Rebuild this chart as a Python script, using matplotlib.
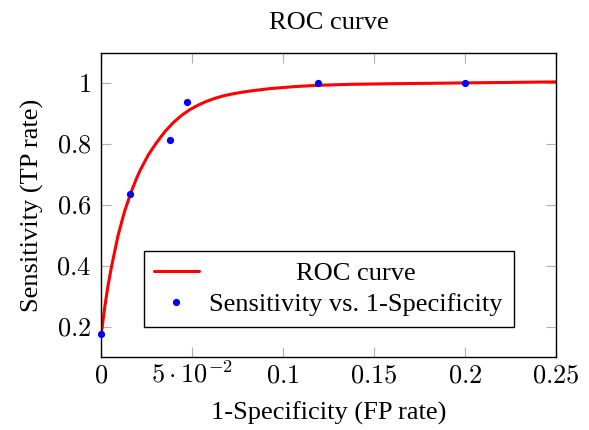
import matplotlib
matplotlib.use("Agg")
import matplotlib.pyplot as plt

plt.rcParams["font.family"] = ["Liberation Serif", "DejaVu Serif"]
plt.rcParams["mathtext.fontset"] = "cm"

# fitted ROC curve
curve_fpr = [0.0, 0.002, 0.0038, 0.0057, 0.0093, 0.0112, 0.013, 0.0167,
             0.0194, 0.0214, 0.026, 0.0306, 0.0352, 0.0397, 0.0443, 0.0489,
             0.0535, 0.058, 0.0626, 0.0672, 0.0718, 0.0764, 0.0819, 0.0929,
             0.1075, 0.12, 0.137, 0.16, 0.19, 0.22, 0.25]
curve_tpr = [0.17, 0.262, 0.333, 0.395, 0.498, 0.541, 0.58, 0.645,
             0.686, 0.713, 0.765, 0.806, 0.842, 0.871, 0.895, 0.914,
             0.929, 0.941, 0.951, 0.959, 0.965, 0.97, 0.975, 0.983,
             0.99, 0.994, 0.997, 0.999, 1.001, 1.003, 1.005]

# measured points
point_fpr = [0.0, 0.016, 0.038, 0.047, 0.119, 0.2]
point_tpr = [0.175, 0.636, 0.813, 0.938, 1.0, 1.0]

x_ticks = [0, 0.05, 0.1, 0.15, 0.2, 0.25]
x_tick_labels = ["$0$", r"$5\cdot10^{-2}$", "$0.1$", "$0.15$", "$0.2$", "$0.25$"]
y_ticks = [0.2, 0.4, 0.6, 0.8, 1.0]
y_tick_labels = ["$0.2$", "$0.4$", "$0.6$", "$0.8$", "$1$"]

RED = "#FF0000"
BLUE = "#0000FF"
FS = 19

fig = plt.figure(figsize=(5.89, 4.30), dpi=100)
ax = fig.add_axes([0.1715, 0.1698, 0.7725, 0.7069])

ax.plot(curve_fpr, curve_tpr, color=RED, linewidth=2.2,
        solid_joinstyle="round", solid_capstyle="round",
        label="ROC curve", zorder=2)
ax.plot(point_fpr, point_tpr, linestyle="none", marker="o", markersize=4.2,
        color=BLUE, label="Sensitivity vs. 1-Specificity", zorder=3,
        clip_on=False)

ax.set_xlim(0, 0.25)
ax.set_ylim(0.1, 1.1)
ax.set_xticks(x_ticks)
ax.set_xticklabels(x_tick_labels)
ax.set_yticks(y_ticks)
ax.set_yticklabels(y_tick_labels)

ax.tick_params(direction="in", length=7, width=0.8, color="#b0b0b0",
               labelsize=FS, top=True, right=True)
ax.tick_params(axis="y", pad=7)
# keep every x label on a common baseline (the 10^-2 would push it down)
ax.tick_params(axis="x", pad=18.5)
for lab in ax.get_xticklabels():
    lab.set_verticalalignment("baseline")

for spine in ax.spines.values():
    spine.set_linewidth(1.0)
    spine.set_color("black")

ax.set_title("ROC curve", fontsize=FS, pad=17)
ax.set_xlabel("1-Specificity (FP rate)", fontsize=FS, labelpad=10)
ax.set_ylabel("Sensitivity (TP rate)", fontsize=FS, labelpad=9)

leg = ax.legend(loc="lower center", bbox_to_anchor=(0.5, 0.099),
                fontsize=FS, frameon=True, fancybox=False,
                edgecolor="black", framealpha=1, borderpad=0.4,
                handlelength=1.7, handletextpad=0.4, labelspacing=0.3,
                borderaxespad=0)
leg.get_frame().set_linewidth(1.0)

# pgfplots centres the legend entries; shift the shorter label over
fig.canvas.draw()
texts = leg.get_texts()
widths = [t.get_window_extent().width for t in texts]
widest = max(widths)
for t, w in zip(texts, widths):
    t.set_position(((widest - w) / 2, 0))

fig.savefig("out.png", dpi=100)
